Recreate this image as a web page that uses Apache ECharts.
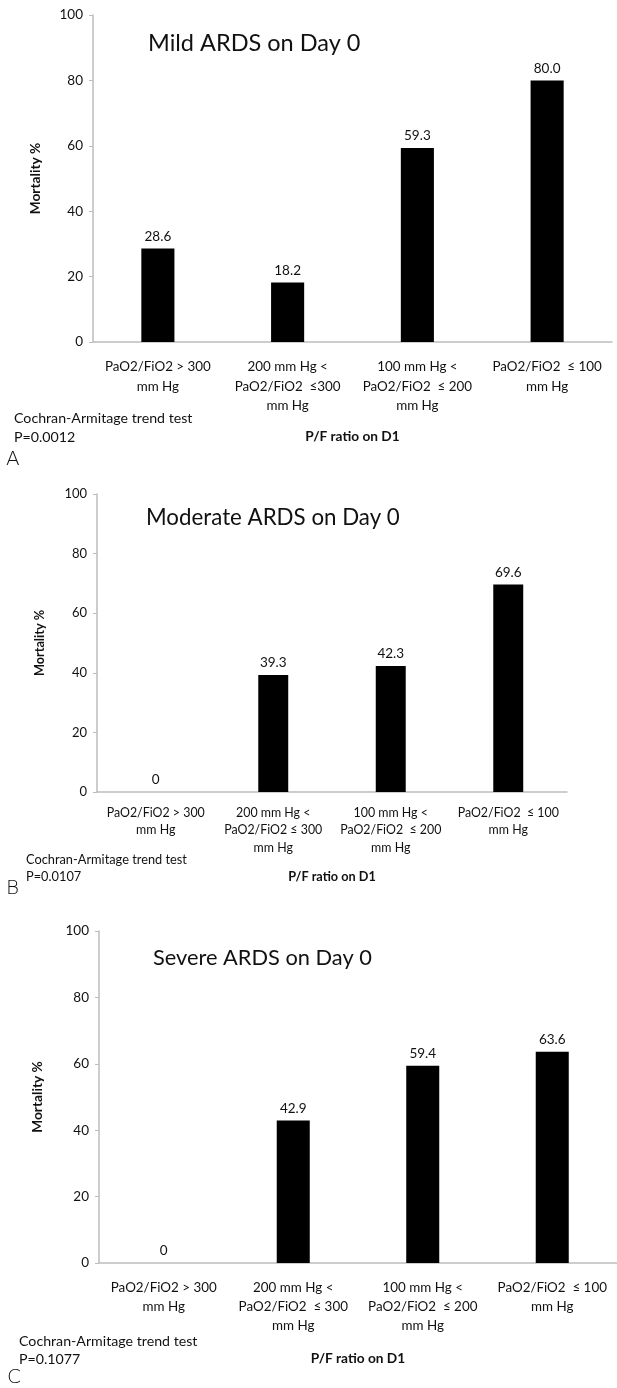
<!DOCTYPE html>
<html>
<head>
<meta charset="utf-8">
<script src="https://cdn.jsdelivr.net/npm/echarts@6/dist/echarts.min.js"></script>
<style>
  html, body { margin: 0; padding: 0; background: #fff; }
  #chart { width: 617px; height: 1388px; }
</style>
</head>
<body>
<div id="chart"></div>
<script>
// categories per panel (line breaks as in the figure)
var catsMild = ['PaO2/FiO2 > 300\nmm Hg', '200 mm Hg <\nPaO2/FiO2  ≤300\nmm Hg', '100 mm Hg <\nPaO2/FiO2  ≤ 200\nmm Hg', 'PaO2/FiO2  ≤ 100\nmm Hg'];
var catsModerate = ['PaO2/FiO2 > 300\nmm Hg', '200 mm Hg <\nPaO2/FiO2 ≤ 300\nmm Hg', '100 mm Hg <\nPaO2/FiO2  ≤ 200\nmm Hg', 'PaO2/FiO2  ≤ 100\nmm Hg'];
var catsSevere = ['PaO2/FiO2 > 300\nmm Hg', '200 mm Hg <\nPaO2/FiO2  ≤ 300\nmm Hg', '100 mm Hg <\nPaO2/FiO2  ≤ 200\nmm Hg', 'PaO2/FiO2  ≤ 100\nmm Hg'];

// mortality %
var mildVals = [28.6, 18.2, 59.3, 80.0];
var moderateVals = [0, 39.3, 42.3, 69.6];
var severeVals = [0, 42.9, 59.4, 63.6];

var panelTitles = ['Mild ARDS on Day 0', 'Moderate ARDS on Day 0', 'Severe ARDS on Day 0'];
var pValues = ['P=0.0012', 'P=0.0107', 'P=0.1077'];
var panelLetters = ['A', 'B', 'C'];

var FONT = 'Lato, "Open Sans", sans-serif';
var AXIS_GREY = '#bdbdbd';
var TXT = '#111';

// layout of the three panels (pixels)
var panels = [
  { grid: { left: 93, right: 5, top: 15, bottom: 1046 }, fs: 13.4, lh: 19.5, margin: 15, nameGap: 88, yNameGap: 50,
    nameFs: 13.7, tickFs: 13.5, testFs: 14.2, title: [148, 43, 23.5], test: [14, 418, 437], letter: [6, 460] },
  { grid: { left: 97, right: 50, top: 494, bottom: 596 }, fs: 12.4, lh: 17.5, margin: 12, nameGap: 78, yNameGap: 51,
    nameFs: 12.7, tickFs: 13, testFs: 12.8, title: [146, 518, 22.3], test: [26, 860, 877], letter: [6, 889] },
  { grid: { left: 99, right: -8, top: 931, bottom: 125 }, fs: 13.4, lh: 19, margin: 15, nameGap: 89, yNameGap: 54,
    nameFs: 13.7, tickFs: 13.5, testFs: 14.2, title: [153, 958, 21.8], test: [19, 1341, 1359], letter: [7, 1378] }
];
var catList = [catsMild, catsModerate, catsSevere];
var valList = [mildVals, moderateVals, severeVals];

var grids = [], xAxes = [], yAxes = [], series = [], graphics = [];

panels.forEach(function (p, i) {
  grids.push(p.grid);
  xAxes.push({
    type: 'category',
    gridIndex: i,
    data: catList[i],
    name: 'P/F ratio on D1',
    nameLocation: 'middle',
    nameGap: p.nameGap,
    nameTextStyle: { fontFamily: FONT, fontSize: p.nameFs, fontWeight: 'bold', color: TXT },
    axisLine: { lineStyle: { color: AXIS_GREY, width: 1.5 } },
    axisTick: { show: false },
    axisLabel: { interval: 0, fontFamily: FONT, fontSize: p.fs, lineHeight: p.lh, color: TXT, margin: p.margin }
  });
  yAxes.push({
    type: 'value',
    gridIndex: i,
    min: 0,
    max: 100,
    interval: 20,
    name: 'Mortality %',
    nameLocation: 'middle',
    nameGap: p.yNameGap,
    nameTextStyle: { fontFamily: FONT, fontSize: p.nameFs, fontWeight: 'bold', color: TXT },
    splitLine: { show: false },
    axisLine: { show: true, lineStyle: { color: AXIS_GREY, width: 1.5 } },
    axisTick: { show: true, length: 4, lineStyle: { color: AXIS_GREY } },
    axisLabel: { fontFamily: FONT, fontSize: p.tickFs, color: TXT, margin: 10 }
  });
  series.push({
    type: 'bar',
    xAxisIndex: i,
    yAxisIndex: i,
    data: valList[i],
    barWidth: '25.5%',
    itemStyle: { color: '#000' },
    label: {
      show: true,
      position: 'top',
      distance: 5,
      fontFamily: FONT,
      fontSize: 13.5,
      color: TXT,
      formatter: function (d) { return d.value === 0 ? '0' : d.value.toFixed(1); }
    }
  });
  graphics.push({
    type: 'text', x: p.title[0], y: p.title[1],
    style: { text: panelTitles[i], fontFamily: FONT, fontSize: p.title[2], fill: '#111', textVerticalAlign: 'middle' }
  });
  graphics.push({
    type: 'text', x: p.test[0], y: p.test[1],
    style: { text: 'Cochran-Armitage trend test', fontFamily: FONT, fontSize: p.testFs, fill: TXT, textVerticalAlign: 'middle' }
  });
  graphics.push({
    type: 'text', x: p.test[0], y: p.test[2],
    style: { text: pValues[i], fontFamily: FONT, fontSize: p.testFs, fill: TXT, textVerticalAlign: 'middle' }
  });
  graphics.push({
    type: 'text', x: p.letter[0], y: p.letter[1],
    style: { text: panelLetters[i], fontFamily: '"DejaVu Sans", sans-serif', fontSize: 20, fontWeight: 'lighter', fill: '#111', textVerticalAlign: 'middle' }
  });
});

var chart = echarts.init(document.getElementById('chart'));
chart.setOption({
  animation: false,
  backgroundColor: '#fff',
  grid: grids,
  xAxis: xAxes,
  yAxis: yAxes,
  series: series,
  graphic: graphics
});
</script>
</body>
</html>
